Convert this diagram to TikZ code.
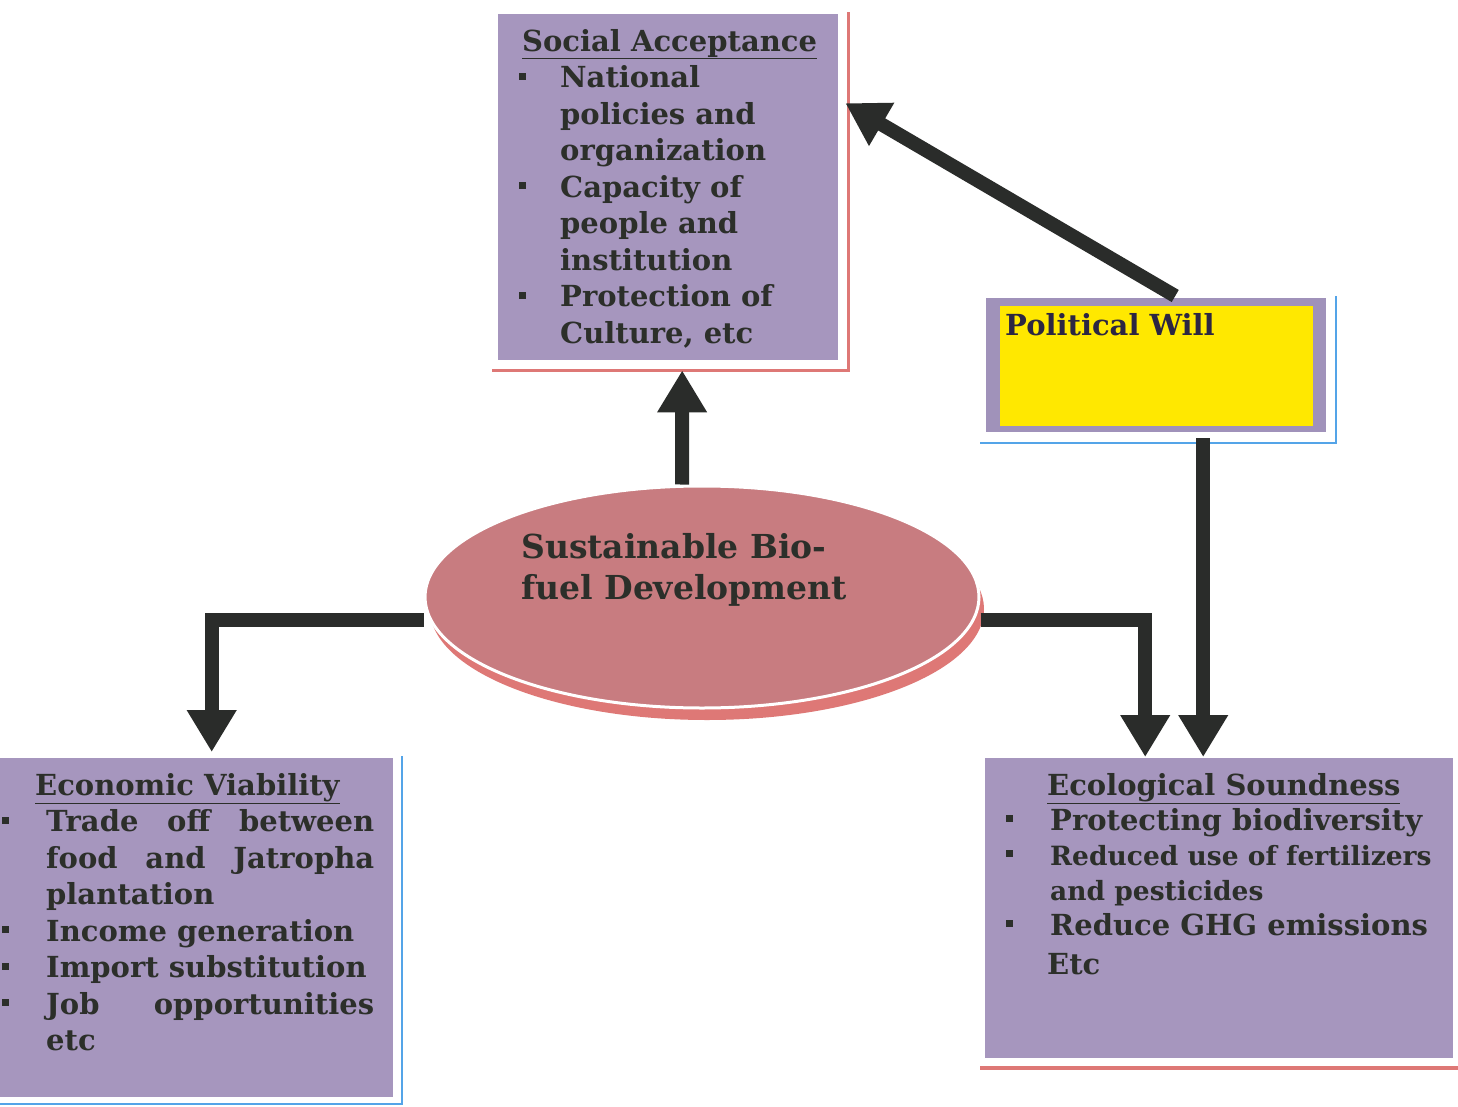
\documentclass[tikz,border=0pt]{standalone}
\usepackage{fontspec}
\setmainfont{DejaVu Serif}
\usetikzlibrary{arrows.meta,shapes.geometric}
\definecolor{boxpurple}{RGB}{166,150,190}
\definecolor{pwpurple}{RGB}{160,146,186}
\definecolor{ellfill}{RGB}{200,124,128}
\definecolor{redline}{RGB}{222,120,118}
\definecolor{blueline}{RGB}{84,164,232}
\definecolor{pwyellow}{RGB}{255,232,0}
\definecolor{arrowc}{RGB}{42,44,42}
\definecolor{txtc}{RGB}{44,47,42}
\definecolor{pwtxt}{RGB}{44,38,66}
\newcommand{\sqb}{\makebox[41pt][l]{\raisebox{8pt}{\rule{7pt}{7pt}}}}
\newcommand{\sqc}{\makebox[44pt][l]{\raisebox{8pt}{\rule{7pt}{7pt}}}}
\newcommand{\inda}{\hspace*{41pt}}
\newcommand{\indb}{\hspace*{44pt}}
\newcommand{\smallline}{\fontsize{26.5}{34}\selectfont}
\tikzset{
  pbox/.style={fill=boxpurple, draw=none, inner sep=0pt},
  txt/.style={inner sep=0pt, align=left, text=txtc, font=\fontsize{29}{36.5}\selectfont\bfseries},
  bigarrow/.style={draw=arrowc, line width=14pt, line join=miter, -{Triangle[width=47pt,length=42pt]}},
  redshadow/.style={draw=redline, line width=3pt},
  blueshadow/.style={draw=blueline, line width=2.5pt},
}
\begin{document}
\begin{tikzpicture}[x=1pt,y=-1pt]
\useasboundingbox[fill=white] (0,0) rectangle (1458,1107);

% shadow lines
\draw[redshadow] (492,370) -- (848,370) -- (848,12);
\draw[blueshadow] (980,443) -- (1336,443) -- (1336,296);
\draw[blueshadow] (0,1104) -- (402,1104) -- (402,756);
\draw[redshadow, line width=4pt] (980,1068) -- (1458,1068);

% boxes
\node[pbox, minimum width=340pt, minimum height=346pt, anchor=north west] (sa) at (498,14) {};
\node[pbox, fill=pwpurple, minimum width=340pt, minimum height=134pt, anchor=north west] (pw) at (986,298) {};
\node[pbox, fill=pwyellow, minimum width=313pt, minimum height=120pt, anchor=north west] (pwin) at (1000,306) {};
\node[pbox, minimum width=393pt, minimum height=339pt, anchor=north west] (ev) at (0,758) {};
\node[pbox, minimum width=468pt, minimum height=300pt, anchor=north west] (es) at (985,758) {};

% ellipse
\fill[redline] (707,609) ellipse [x radius=277pt, y radius=111pt];
\node[ellipse, fill=ellfill, draw=white, line width=3pt, minimum width=554pt, minimum height=222pt, inner sep=0pt] (sbd) at (702,597) {};

% texts
\node[txt, anchor=north west] (satext) at (519,29) {%
\hspace*{3pt}\underline{Social Acceptance}\\
\sqb National\\
\inda policies and\\
\inda organization\\
\sqb Capacity of\\
\inda people and\\
\inda institution\\
\sqb Protection of\\
\inda Culture, etc};

\node[txt, text=pwtxt, anchor=north west] (pwtext) at (1005,313) {Political Will};

\node[txt, font=\fontsize{33}{41}\selectfont\bfseries, anchor=north west] (sbdtext) at (521,533) {Sustainable Bio-\\fuel Development};

\node[txt, anchor=north west] (evtext) at (2,773) {%
\hspace*{33pt}\underline{Economic Viability}\\
\sqc\makebox[328pt][s]{Trade off between}\\
\indb\makebox[328pt][s]{food and Jatropha}\\
\indb plantation\\
\sqc Income generation\\
\sqc Import substitution\\
\sqc\makebox[328pt][s]{Job opportunities}\\
\indb etc};

\node[txt, font=\fontsize{29}{35}\selectfont\bfseries, anchor=north west] (estext) at (1006,773) {%
\hspace*{41pt}\underline{Ecological Soundness}\\
\sqc Protecting biodiversity\\
\sqc{\smallline Reduced use of fertilizers}\\
\indb{\smallline and pesticides}\\
\sqc Reduce GHG emissions\\[4pt]
\hspace*{41pt}Etc};

% arrows
\draw[bigarrow] ([xshift=-20pt]sbd.north) -- ([xshift=14pt,yshift=-10pt]sa.south);
\draw[bigarrow] ([yshift=-23pt]sbd.west) -| ([xshift=15pt,yshift=6pt]ev.north);
\draw[bigarrow] ([yshift=-23pt]sbd.east) -| ([xshift=-74pt,yshift=1pt]es.north);
\draw[bigarrow] ([xshift=47pt,yshift=-6pt]pw.south) -- ([xshift=-16pt,yshift=1pt]es.north);
\draw[bigarrow] ([xshift=19pt,yshift=2pt]pw.north) -- ([xshift=7pt,yshift=84pt]sa.east);
\end{tikzpicture}
\end{document}
